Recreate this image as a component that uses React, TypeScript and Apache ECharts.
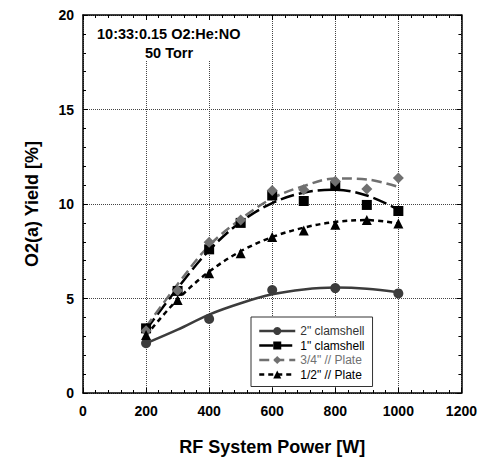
import React, { useEffect, useRef } from "react";
import * as echarts from "echarts";

const FONT = '"Liberation Sans", Arial, sans-serif';

const xTrend = [200, 300, 400, 500, 600, 700, 800, 900, 1000];
const xClam2 = [200, 400, 600, 800, 1000];
const yClam2 = [2.63, 3.92, 5.45, 5.55, 5.27];
const xFull = [200, 300, 400, 500, 600, 700, 800, 900, 1000];
const yClam1 = [3.42, 5.4, 7.6, 9.0, 10.45, 10.16, 10.95, 9.95, 9.63];
const yPlate34 = [3.3, 5.42, 7.98, 9.15, 10.72, 10.75, 11.2, 10.8, 11.37];
const yPlate12 = [3.07, 4.92, 6.33, 7.4, 8.25, 8.6, 8.9, 9.15, 8.97];

const tClam2 = [2.63, 3.35, 4.15, 4.75, 5.22, 5.48, 5.58, 5.52, 5.33];
const tClam1 = [3.35, 5.55, 7.55, 9.05, 10.05, 10.6, 10.75, 10.45, 9.7];
const tPlate34 = [3.5, 5.75, 7.8, 9.2, 10.3, 10.95, 11.35, 11.3, 10.9];
const tPlate12 = [3.05, 4.95, 6.42, 7.5, 8.25, 8.75, 9.05, 9.15, 8.97];

const names = ['2" clamshell', '1" clamshell', '3/4" // Plate', '1/2" // Plate'];
const colors = ["#3c3c3c", "#000000", "#707070", "#000000"];
const symbols = ["circle", "rect", "diamond", "triangle"];
const symbolSizes = [10, 10, 11, 10];
const dashes: any[] = ["solid", [14, 5], [10, 5], [5, 4]];
const annotation = ["10:33:0.15 O2:He:NO", "50 Torr"];
const xTitle = "RF System Power [W]";
const yTitle = "O2(a) Yield [%]";

const pair = (xs: number[], ys: number[]) => xs.map((x, i) => [x, ys[i]]);

export default function App() {
  const ref = useRef<HTMLDivElement>(null);
  useEffect(() => {
    if (!ref.current) return;
    const chart = echarts.init(ref.current, undefined, { renderer: "svg" });
    const pointData = [
      pair(xClam2, yClam2),
      pair(xFull, yClam1),
      pair(xFull, yPlate34),
      pair(xFull, yPlate12),
    ];
    const trendData = [
      pair(xTrend, tClam2),
      pair(xTrend, tClam1),
      pair(xTrend, tPlate34),
      pair(xTrend, tPlate12),
    ];
    const series: any[] = [];
    for (let i = 0; i < 4; i++) {
      series.push({
        type: "line",
        name: names[i] + " fit",
        data: trendData[i],
        smooth: 0.35,
        showSymbol: false,
        silent: true,
        lineStyle: { color: colors[i], width: 2.5, type: dashes[i] },
        z: 2,
      });
    }
    for (let i = 0; i < 4; i++) {
      series.push({
        type: "line",
        name: names[i],
        data: pointData[i],
        symbol: symbols[i],
        symbolSize: symbolSizes[i],
        showSymbol: true,
        lineStyle: { width: 0, opacity: 0 },
        itemStyle: { color: colors[i] },
        z: 3,
      });
    }
    const axisCommon = {
      type: "value",
      axisLine: { show: true, onZero: false, lineStyle: { color: "#000", width: 1.5 } },
      axisTick: { show: true, inside: true, length: 5, lineStyle: { color: "#000" } },
      minorTick: { show: true, splitNumber: 5, length: 3, lineStyle: { color: "#000" } },
    };
    const plain = (v: number) => String(v);
    chart.setOption({
      animation: false,
      backgroundColor: "#fff",
      grid: { left: 83, right: 18, top: 15, bottom: 68 },
      legend: {
        orient: "vertical",
        left: 251,
        top: 317,
        padding: [8, 8, 6, 7],
        itemGap: 2.5,
        itemWidth: 36,
        itemHeight: 10,
        backgroundColor: "#fff",
        borderColor: "#333",
        borderWidth: 1,
        borderRadius: 0,
        textStyle: { fontFamily: FONT, fontSize: 12, color: "#000" },
        data: names.map((n, i) => ({
          name: n,
          textStyle: { color: i === 2 ? "#707070" : i === 0 ? "#333" : "#000" },
          lineStyle: { color: colors[i], width: 2.5, type: dashes[i], opacity: 1 },
          itemStyle: { color: colors[i] },
        })),
      },
      xAxis: [
        {
          ...axisCommon,
          min: 0,
          max: 1200,
          interval: 200,
          position: "bottom",
          name: xTitle,
          nameLocation: "middle",
          nameGap: 45,
          nameTextStyle: { fontFamily: FONT, fontSize: 18, fontWeight: "bold", color: "#000" },
          axisLabel: { fontFamily: FONT, fontSize: 14, fontWeight: "bold", color: "#000", margin: 11, formatter: plain },
          splitLine: { show: true, lineStyle: { color: "#444", type: "dotted", width: 1 } },
        },
        {
          ...axisCommon,
          min: 0,
          max: 1200,
          interval: 200,
          position: "top",
          axisLabel: { show: false },
          splitLine: { show: false },
        },
      ],
      yAxis: [
        {
          ...axisCommon,
          min: 0,
          max: 20,
          interval: 5,
          position: "left",
          name: yTitle,
          nameLocation: "middle",
          nameGap: 42,
          nameTextStyle: { fontFamily: FONT, fontSize: 18, fontWeight: "bold", color: "#000" },
          axisLabel: { fontFamily: FONT, fontSize: 14, fontWeight: "bold", color: "#000", margin: 9, formatter: plain },
          splitLine: { show: true, lineStyle: { color: "#444", type: "dotted", width: 1 } },
        },
        {
          ...axisCommon,
          min: 0,
          max: 20,
          interval: 5,
          position: "right",
          axisLabel: { show: false },
          splitLine: { show: false },
        },
      ],
      graphic: [
        {
          type: "rect",
          z: 1,
          shape: { x: 90, y: 20, width: 160, height: 41 },
          style: { fill: "#fff" },
        },
        {
          type: "text",
          z: 2,
          x: 97,
          y: 34,
          style: {
            text: annotation[0],
            font: `bold 14.5px ${FONT}`,
            fill: "#000",
            textAlign: "left",
            textVerticalAlign: "middle",
          },
        },
        {
          type: "text",
          z: 2,
          x: 145,
          y: 53,
          style: {
            text: annotation[1],
            font: `bold 14.5px ${FONT}`,
            fill: "#000",
            textAlign: "left",
            textVerticalAlign: "middle",
          },
        },
      ],
      series,
    });
    return () => chart.dispose();
  }, []);
  return (
    <div
      ref={ref}
      style={{ position: "absolute", left: 0, top: 0, width: 480, height: 461 }}
    />
  );
}
